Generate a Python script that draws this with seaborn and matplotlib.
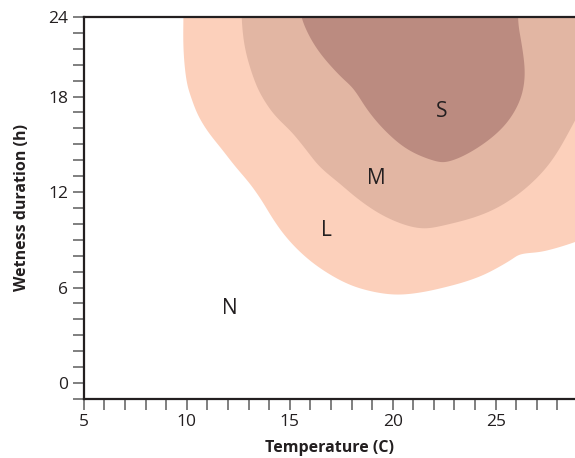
import numpy as np
import matplotlib
matplotlib.use("Agg")
import matplotlib.pyplot as plt
import seaborn as sns
from matplotlib.ticker import MultipleLocator, FixedLocator

# Boundaries of the risk zones (temperature in C, wetness duration in h)
light_temp = [9.84, 9.84, 9.84, 10.0, 10.24, 10.56, 11.05, 11.7, 12.35, 13.07, 13.64,
              14.13, 14.69, 15.42, 16.39, 17.77, 19.0, 20.2, 21.4, 22.6, 23.6, 24.56,
              25.7, 26.18, 27.15, 28.12, 28.85, 29.6]
light_wet = [24.0, 22.9, 21.0, 18.9, 17.85, 16.8, 15.76, 14.7, 13.62, 12.52, 11.47,
             10.43, 9.39, 8.34, 7.29, 6.25, 5.75, 5.55, 5.7, 6.04, 6.4, 6.88,
             7.7, 8.09, 8.23, 8.55, 8.86, 9.2]

moderate_temp = [12.67, 12.67, 12.83, 13.32, 13.72, 14.29, 15.1, 15.8, 16.45,
                 17.44, 18.41, 19.7, 21.33, 22.62, 24.6, 26.25, 27.7, 28.85, 29.5]
moderate_wet = [24.0, 22.9, 21.0, 18.9, 17.85, 16.8, 15.76, 14.65, 13.6,
                12.52, 11.47, 10.4, 9.7, 9.95, 10.7, 12.0, 13.9, 16.5, 18.0]

severe_temp = [15.5, 15.58, 16.31, 17.44, 18.09, 18.74, 19.54, 20.68, 21.97, 22.62,
               23.91, 25.37, 26.18, 26.42, 26.26, 26.1, 26.08]
severe_wet = [24.0, 22.9, 21.0, 19.3, 18.5, 17.22, 15.97, 14.7, 13.98, 13.88,
              14.6, 16.07, 17.74, 19.4, 21.3, 22.55, 24.0]

zone_names = ["N", "L", "M", "S"]
zone_label_temp = [12.1, 16.8, 19.2, 22.37]
zone_label_wet = [4.7, 9.6, 12.85, 17.05]

x_major = [5, 10, 15, 20, 25]
y_major_labels = ["0", "6", "12", "18", "24"]


def smooth_curve(xs, ys, n=20, alpha=0.5, window=17):
    """Centripetal Catmull-Rom curve through the points, lightly averaged."""
    p = np.column_stack([xs, ys]).astype(float)
    p = np.vstack([2 * p[0] - p[1], p, 2 * p[-1] - p[-2]])
    scale = np.array([20.6, 15.95])  # roughly equal visual units on both axes
    out = []
    for i in range(1, len(p) - 2):
        P = p[i - 1:i + 3]
        d = np.linalg.norm(np.diff(P * scale, axis=0), axis=1)
        d = np.maximum(d, 1e-6) ** alpha
        t0, t1, t2, t3 = 0.0, d[0], d[0] + d[1], d[0] + d[1] + d[2]
        t = np.linspace(t1, t2, n, endpoint=False)[:, None]
        A1 = (t1 - t) / (t1 - t0) * P[0] + (t - t0) / (t1 - t0) * P[1]
        A2 = (t2 - t) / (t2 - t1) * P[1] + (t - t1) / (t2 - t1) * P[2]
        A3 = (t3 - t) / (t3 - t2) * P[2] + (t - t2) / (t3 - t2) * P[3]
        B1 = (t2 - t) / (t2 - t0) * A1 + (t - t0) / (t2 - t0) * A2
        B2 = (t3 - t) / (t3 - t1) * A2 + (t - t1) / (t3 - t1) * A3
        C = (t2 - t) / (t2 - t1) * B1 + (t - t1) / (t2 - t1) * B2
        out.append(C)
    out.append(p[-2][None, :])
    c = np.vstack(out)
    k = np.ones(window) / window
    half = window // 2
    padded = np.vstack([np.repeat(c[:1], half, 0), c, np.repeat(c[-1:], half, 0)])
    sx = np.convolve(padded[:, 0], k, mode="valid")
    sy = np.convolve(padded[:, 1], k, mode="valid")
    return sx, sy


sns.set_theme(style="ticks")
plt.rcParams["font.family"] = ["Open Sans", "DejaVu Sans"]

fig = plt.figure(figsize=(5.75, 4.58), dpi=100)
ax = fig.add_axes([0.1456, 0.1288, 0.8544, 0.8342])

top = 26
zones = [
    (light_temp, light_wet, "#FCD0BB", True),
    (moderate_temp, moderate_wet, "#E2B6A3", True),
    (severe_temp, severe_wet, "#BB8B80", False),
]
for xs, ys, color, open_right in zones:
    cx, cy = smooth_curve(xs, ys)
    if open_right:
        px = np.concatenate([[cx[0]], cx, [32, 32]])
        py = np.concatenate([[top], cy, [cy[-1], top]])
    else:
        px = np.concatenate([[cx[0]], cx, [cx[-1]]])
        py = np.concatenate([[top], cy, [top]])
    ax.fill(px, py, color=color, lw=0, zorder=1)

for name, tx, ty in zip(zone_names, zone_label_temp, zone_label_wet):
    ax.text(tx, ty, name, ha="center", va="center", fontsize=15, color="#231F20", zorder=3)

ax.set_xlim(5, 28.85)
ax.set_ylim(-1, 23)

ax.xaxis.set_major_locator(FixedLocator(x_major))
ax.xaxis.set_minor_locator(MultipleLocator(1))
ax.yaxis.set_major_locator(FixedLocator([0, 6, 12, 18, 23]))
ax.set_yticklabels(y_major_labels)
ax.yaxis.set_minor_locator(FixedLocator(list(range(-1, 23))))

ax.tick_params(axis="both", which="both", direction="out", length=8, width=1.2,
               color="#6a6a6a", labelsize=12.5, labelcolor="#231F20", pad=3)

for side in ["left", "bottom", "top"]:
    ax.spines[side].set_color("#231F20")
    ax.spines[side].set_linewidth(1.6)
    ax.spines[side].set_zorder(4)
ax.spines["right"].set_visible(False)

ax.set_xlabel("Temperature (C)", fontsize=11.5, fontweight="bold", color="#231F20", labelpad=7)
ax.set_ylabel("Wetness duration (h)", fontsize=11.5, fontweight="bold", color="#231F20", labelpad=13)

fig.savefig("out.png", dpi=100)
